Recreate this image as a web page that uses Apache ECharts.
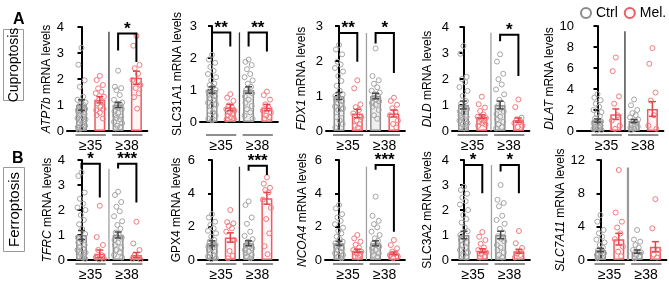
<!DOCTYPE html>
<html><head><meta charset="utf-8">
<script src="https://cdn.jsdelivr.net/npm/echarts@6/dist/echarts.min.js"></script>
<style>html,body{margin:0;padding:0;background:#fff}#c{width:669px;height:291px}</style>
</head><body><div id="c"></div>
<script>
// ---------- DATA ----------
const groupLabels = ['≥35', '≥38'];
const legendNames = ['Ctrl', 'Mel.'];
const geneNames = ['ATP7b','SLC31A1','FDX1','DLD','DLAT','TFRC','GPX4','NCOA4','SLC3A2','SLC7A11'];
// bar order: [Ctrl ≥35, Mel ≥35, Ctrl ≥38, Mel ≥38]
const meanATP7b = [1.0, 1.2, 1.0, 2.05];   const semATP7b = [0.2, 0.12, 0.1, 0.25];
const meanSLC31A1 = [1.0, 0.45, 1.0, 0.45]; const semSLC31A1 = [0.1, 0.1, 0.1, 0.1];
const meanFDX1 = [1.0, 0.5, 1.0, 0.5];      const semFDX1 = [0.1, 0.12, 0.08, 0.1];
const meanDLD = [1.0, 0.55, 1.0, 0.42];     const semDLD = [0.15, 0.07, 0.15, 0.08];
const meanDLAT = [1.0, 1.6, 0.95, 2.1];     const semDLAT = [0.15, 0.5, 0.15, 0.7];
const meanTFRC = [1.0, 0.25, 1.0, 0.2];     const semTFRC = [0.18, 0.15, 0.12, 0.1];
const meanGPX4 = [1.0, 1.35, 1.0, 3.7];     const semGPX4 = [0.15, 0.28, 0.15, 0.35];
const meanNCOA4 = [1.0, 0.55, 1.0, 0.4];    const semNCOA4 = [0.12, 0.1, 0.15, 0.08];
const meanSLC3A2 = [1.0, 0.37, 1.0, 0.35];  const semSLC3A2 = [0.15, 0.08, 0.15, 0.08];
const meanSLC7A11 = [1.2, 2.5, 1.0, 1.6];   const semSLC7A11 = [0.2, 0.7, 0.2, 0.6];

const dotsATP7b = [
  [3.2,2.55,1.95,1.7,1.32,1.2,1.1,1.05,1.0,0.95,0.9,0.85,0.8,0.75,0.7,0.65,0.6,0.55,0.5,0.45,0.4,0.35,0.3,0.25,0.2,0.15,0.1,0.05],
  [2.12,1.96,1.77,1.64,1.5,1.45,1.32,1.2,1.1,1.06,0.93,0.85,0.8,0.7,0.61,0.48],
  [2.32,1.7,1.65,1.57,1.38,1.2,1.1,1.05,1.0,0.95,0.9,0.85,0.75,0.7,0.6,0.55,0.5,0.45,0.35,0.3,0.2,0.15,0.1],
  [3.66,3.28,2.54,2.41,2.2,1.96,1.77,1.65,1.45,1.3,0.86]];
const dotsSLC31A1 = [
  [2.1,1.95,1.85,1.72,1.6,1.5,1.4,1.3,1.2,1.15,1.1,1.0,0.95,0.9,0.85,0.8,0.75,0.7,0.6,0.55,0.5,0.4,0.35,0.3,0.2,0.1,0.05],
  [0.87,0.76,0.66,0.52,0.45,0.4,0.35,0.3,0.25,0.2,0.15,0.1,0.08],
  [1.95,1.88,1.78,1.65,1.5,1.4,1.3,1.2,1.1,1.0,0.95,0.9,0.8,0.7,0.6,0.5,0.4,0.3,0.2,0.1],
  [0.95,0.84,0.7,0.55,0.45,0.35,0.3,0.2,0.15,0.1]];
const dotsFDX1 = [
  [2.46,2.33,2.19,1.98,1.9,1.8,1.7,1.57,1.43,1.29,1.15,1.05,1.0,0.95,0.9,0.85,0.8,0.75,0.7,0.65,0.6,0.5,0.4,0.3,0.2,0.1],
  [1.45,1.22,0.76,0.68,0.6,0.5,0.4,0.3,0.2,0.15,0.1],
  [2.36,1.57,1.45,1.35,1.25,1.15,1.1,1.05,1.0,0.95,0.9,0.85,0.8,0.75,0.7,0.6,0.45,0.35],
  [0.95,0.86,0.75,0.65,0.55,0.45,0.3,0.2,0.1]];
const dotsDLD = [
  [3.27,2.97,2.08,2.0,1.88,1.69,1.54,1.35,1.15,1.05,0.95,0.85,0.75,0.7,0.6,0.55,0.5,0.45,0.4,0.3,0.25,0.2,0.15,0.1],
  [1.32,1.03,0.9,0.77,0.64,0.55,0.5,0.45,0.4,0.35,0.3,0.25,0.2],
  [2.95,2.67,2.2,1.99,1.79,1.6,1.41,1.2,1.05,0.95,0.85,0.75,0.65,0.55,0.45,0.35,0.25,0.15,0.1],
  [1.21,0.92,0.51,0.45,0.35,0.3,0.2,0.15]];
const dotsDLAT = [
  [3.5,3.18,2.93,2.6,2.3,2.0,1.8,1.6,1.4,1.2,1.0,0.9,0.8,0.7,0.6,0.5,0.4,0.3,0.2,0.1,0.05],
  [7.0,5.7,3.3,2.6,1.5,1.0,0.5,0.2],
  [3.0,2.45,2.0,1.7,1.5,1.3,1.1,0.9,0.8,0.6,0.5,0.4,0.3,0.2,0.1],
  [7.9,6.4,3.66,2.9,1.5,0.5,0.2]];
const dotsTFRC = [
  [3.5,3.36,2.7,2.45,2.25,2.1,2.0,1.8,1.6,1.43,1.24,1.04,0.9,0.8,0.7,0.6,0.5,0.45,0.4,0.3,0.25,0.2,0.15,0.1,0.05],
  [2.17,0.92,0.6,0.4,0.2,0.1,0.05,0.02],
  [2.73,2.6,2.32,2.13,1.95,1.75,1.55,1.4,1.25,1.1,1.0,0.9,0.8,0.7,0.6,0.5,0.4,0.3,0.2,0.1],
  [1.53,0.66,0.4,0.2,0.1,0.05,0.02]];
const dotsGPX4 = [
  [2.75,2.55,2.3,2.1,1.9,1.75,1.6,1.4,1.2,1.1,1.0,0.9,0.8,0.7,0.6,0.5,0.4,0.3,0.2,0.1,0.05],
  [3.0,2.27,2.2,2.05,1.9,1.7,1.2,0.54,0.25,0.1],
  [3.52,3.3,2.55,2.17,1.7,1.45,1.25,1.1,1.0,0.9,0.8,0.7,0.6,0.5,0.4,0.3,0.2,0.1],
  [4.96,4.58,4.33,4.2,4.06,3.62,3.13,2.46,1.6,0.83,0.35]];
const dotsNCOA4 = [
  [3.3,3.1,2.75,2.55,2.35,2.15,1.94,1.75,1.6,1.4,1.25,1.1,1.0,0.9,0.8,0.7,0.6,0.5,0.4,0.3,0.2,0.1],
  [1.5,1.3,1.1,0.92,0.75,0.6,0.5,0.4,0.3,0.2,0.15],
  [3.8,2.65,2.35,2.15,1.96,1.7,1.5,1.3,1.15,1.0,0.9,0.8,0.7,0.6,0.5,0.4,0.3,0.2],
  [1.2,0.9,0.7,0.5,0.4,0.3,0.2,0.1]];
const dotsSLC3A2 = [
  [2.93,2.8,2.65,2.5,2.35,2.22,2.0,1.8,1.64,1.5,1.3,1.15,1.0,0.9,0.8,0.7,0.6,0.5,0.4,0.3,0.2,0.1],
  [1.12,0.93,0.8,0.65,0.5,0.4,0.3,0.22,0.15,0.1],
  [3.0,2.41,2.28,2.15,1.77,1.6,1.45,1.25,1.1,0.95,0.85,0.75,0.6,0.5,0.4,0.3,0.2,0.1],
  [1.16,0.67,0.48,0.28,0.2,0.1]];
const dotsSLC7A11 = [
  [5.4,4.6,3.6,3.2,2.8,2.45,2.1,1.8,1.5,1.2,1.0,0.8,0.6,0.4,0.2],
  [10.8,5.7,4.6,3.9,3.2,2.5,1.6,1.0,0.46],
  [3.6,2.45,2.2,1.8,1.5,1.2,0.9,0.6,0.4,0.2],
  [7.3,3.8,1.2,0.65,0.3]];

// significance brackets: [bar from, bar to, bracket top, left leg end, right leg end, label]
const sigATP7b = [[2,3,3.75,3.1,2.65,'*']];
const sigSLC31A1 = [[0,1,2.8,2.46,2.36,'**'],[2,3,2.8,2.36,2.2,'**']];
const sigFDX1 = [[0,1,2.8,2.52,1.98,'**'],[2,3,2.8,2.5,1.66,'*']];
const sigDLD = [[2,3,3.7,3.45,2.12,'*']];
const sigDLAT = [];
const sigTFRC = [[0,1,3.85,3.66,2.5,'*'],[2,3,3.85,3.66,2.3,'***']];
const sigGPX4 = [[2,3,5.65,5.35,5.1,'***']];
const sigNCOA4 = [[2,3,5.7,5.42,1.7,'***']];
const sigSLC3A2 = [[0,1,3.8,3.54,2.67,'*'],[2,3,3.8,3.54,2.67,'*']];
const sigSLC7A11 = [];

// y axis tick ranges
const yMaxes = [4, 3, 3, 4, 10, 4, 6, 6, 4, 12];
const ySteps = [1, 1, 1, 1, 2, 1, 2, 2, 1, 4];
const italicGene = [true, false, true, true, true, true, false, true, false, true];

// ---------- LAYOUT ----------
const FONT = '"Liberation Sans", Arial, Helvetica, sans-serif';
const U = 18.3; // px per bar slot
const layout = [
  {left:67,  top:27,  h:104, off:14.5, gap:11, sepTop:3.82, ul:4,  lab:15, sepCol:'#333', sepW:1.3},
  {left:200, top:26,  h:96,  off:12,   gap:16, sepTop:2.8,  ul:13, lab:24, sepCol:'#333', sepW:1.3},
  {left:326, top:26,  h:105, off:13,   gap:18, sepTop:2.8,  ul:4,  lab:15, sepCol:'#a0a0a0', sepW:1.3},
  {left:452, top:27,  h:104, off:11.5, gap:18, sepTop:3.78, ul:4,  lab:15, sepCol:'#a0a0a0', sepW:1.3},
  {left:577, top:26,  h:105, off:20.5, gap:16, sepTop:9.5,  ul:4,  lab:15, sepCol:'#333', sepW:1.3},
  {left:68,  top:160, h:100, off:13.5, gap:12, sepTop:3.65, ul:4,  lab:15, sepCol:'#a0a0a0', sepW:1.3},
  {left:198, top:160, h:100, off:14,   gap:15, sepTop:5.6,  ul:4,  lab:15, sepCol:'#333', sepW:1.3},
  {left:325, top:160, h:100, off:14,   gap:16, sepTop:5.6,  ul:4,  lab:15, sepCol:'#a0a0a0', sepW:1.3},
  {left:452, top:160, h:100, off:12,   gap:18, sepTop:3.8,  ul:4,  lab:15, sepCol:'#a0a0a0', sepW:1.3},
  {left:588, top:160, h:100, off:12.5, gap:17, sepTop:11.1, ul:4,  lab:15, sepCol:'#9a9a9a', sepW:2.2}
];
const means = [meanATP7b, meanSLC31A1, meanFDX1, meanDLD, meanDLAT, meanTFRC, meanGPX4, meanNCOA4, meanSLC3A2, meanSLC7A11];
const sems = [semATP7b, semSLC31A1, semFDX1, semDLD, semDLAT, semTFRC, semGPX4, semNCOA4, semSLC3A2, semSLC7A11];
const dots = [dotsATP7b, dotsSLC31A1, dotsFDX1, dotsDLD, dotsDLAT, dotsTFRC, dotsGPX4, dotsNCOA4, dotsSLC3A2, dotsSLC7A11];
const sigs = [sigATP7b, sigSLC31A1, sigFDX1, sigDLD, sigDLAT, sigTFRC, sigGPX4, sigNCOA4, sigSLC3A2, sigSLC7A11];

const CTRL = {dot:'#a5a5a5', bar:'#8e8e8e', fill:'rgba(210,210,210,0.35)', err:'#4a4a4a'};
const MEL  = {dot:'#f27a7f', bar:'#ee5a61', fill:'rgba(255,230,231,0.35)', err:'#e6434b'};
const JIT = [0,-0.17,0.17,-0.09,0.09,-0.22,0.22,-0.04,0.13,-0.13,0.04,0.2,-0.2];

const grids = [], xAxes = [], yAxes = [], series = [];
layout.forEach((p, i) => {
  const xMin = -p.off / U, xMax = 3.6;
  grids.push({left: p.left, top: p.top, width: (xMax - xMin) * U, height: p.h});
  xAxes.push({gridIndex: i, type: 'value', min: xMin, max: xMax,
    axisLine: {show: true, onZero: false, lineStyle: {color: '#000', width: 2}},
    axisTick: {show: false}, axisLabel: {show: false}, splitLine: {show: false}});
  const g = geneNames[i];
  yAxes.push({gridIndex: i, type: 'value', min: 0, max: yMaxes[i], interval: ySteps[i],
    axisLine: {show: true, lineStyle: {color: '#000', width: 2}},
    axisTick: {show: true, length: 4, lineStyle: {color: '#000', width: 2}},
    axisLabel: {fontSize: 13, color: '#000', margin: 3, fontFamily: FONT},
    splitLine: {show: false},
    name: (italicGene[i] ? '{i|' + g + '}' : g) + ' mRNA levels',
    nameLocation: 'middle', nameGap: p.gap,
    nameTextStyle: {fontSize: 12, color: '#000', fontFamily: FONT,
      rich: {i: {fontStyle: 'italic', fontSize: 12, color: '#000', fontFamily: FONT}}}});
  const ax = {xAxisIndex: i, yAxisIndex: i};

  // separator between the two temperature groups
  series.push(Object.assign({type: 'custom', z: 1, clip: false, silent: true,
    data: [[1.5, p.sepTop]],
    renderItem: (params, api) => {
      const a = api.coord([api.value(0), 0]), b = api.coord([api.value(0), api.value(1)]);
      return {type: 'line', shape: {x1: a[0], y1: a[1], x2: b[0], y2: b[1]},
        style: {stroke: p.sepCol, lineWidth: p.sepW}};
    }}, ax));
  // group underlines + labels
  series.push(Object.assign({type: 'custom', z: 1, clip: false, silent: true,
    data: [[0.5, 0], [2.5, 0]],
    renderItem: (params, api) => {
      const c = api.coord([api.value(0), 0]);
      const l = api.coord([api.value(0) - 0.5, 0])[0] - 6;
      const r = api.coord([api.value(0) + 0.5, 0])[0] + 6;
      return {type: 'group', children: [
        {type: 'line', shape: {x1: l, y1: c[1] + p.ul, x2: r, y2: c[1] + p.ul},
          style: {stroke: '#444', lineWidth: 1.2}},
        {type: 'text', style: {text: groupLabels[params.dataIndex], x: c[0], y: c[1] + p.lab,
          align: 'center', verticalAlign: 'middle', fontSize: 14, fontFamily: FONT, fill: '#000'}}
      ]};
    }}, ax));

  // bars
  series.push(Object.assign({type: 'bar', barWidth: 11, z: 2, silent: true,
    data: means[i].map((m, k) => ({value: [k, m], itemStyle: {
      color: k % 2 ? MEL.fill : CTRL.fill, borderColor: k % 2 ? MEL.bar : CTRL.bar, borderWidth: 1.5}}))}, ax));

  // individual dots
  legendNames.forEach((nm, gI) => {
    const pts = [];
    [gI, gI + 2].forEach(k => dots[i][k].forEach((v, j) => pts.push([k + JIT[j % JIT.length], v])));
    series.push(Object.assign({type: 'scatter', name: nm, symbol: 'circle', symbolSize: 5, z: 3, silent: true,
      itemStyle: {color: 'rgba(255,255,255,0)', borderColor: gI ? MEL.dot : CTRL.dot, borderWidth: 1, opacity: 1},
      data: pts}, ax));
  });

  // error bars (mean ± SEM)
  series.push(Object.assign({type: 'custom', z: 4, clip: false, silent: true,
    data: means[i].map((m, k) => [k, m, sems[i][k]]),
    renderItem: (params, api) => {
      const x = api.value(0), m = api.value(1), s = api.value(2);
      const col = params.dataIndex % 2 ? MEL.err : CTRL.err;
      const t = api.coord([x, m + s]), b = api.coord([x, Math.max(0, m - s)]);
      const w = 3.5;
      return {type: 'group', children: [
        {type: 'line', shape: {x1: t[0], y1: t[1], x2: b[0], y2: b[1]}, style: {stroke: col, lineWidth: 1.5}},
        {type: 'line', shape: {x1: t[0] - w, y1: t[1], x2: t[0] + w, y2: t[1]}, style: {stroke: col, lineWidth: 1.5}},
        {type: 'line', shape: {x1: b[0] - w, y1: b[1], x2: b[0] + w, y2: b[1]}, style: {stroke: col, lineWidth: 1.5}}
      ]};
    }}, ax));

  // significance brackets
  if (sigs[i].length) {
    series.push(Object.assign({type: 'custom', z: 5, clip: false, silent: true,
      data: sigs[i].map(s => [s[0], s[2], s[1], s[3], s[4]]),
      renderItem: (params, api) => {
        const s = sigs[i][params.dataIndex];
        const a = api.coord([s[0], s[3]]), b = api.coord([s[0], s[2]]);
        const c = api.coord([s[1], s[2]]), e = api.coord([s[1], s[4]]);
        return {type: 'group', children: [
          {type: 'polyline', shape: {points: [a, b, c, e]}, style: {stroke: '#000', lineWidth: 2, fill: null}},
          {type: 'text', style: {text: s[5], x: (b[0] + c[0]) / 2, y: b[1] + 4, align: 'center',
            verticalAlign: 'bottom', fontSize: 17, fontWeight: 'bold', fontFamily: FONT, fill: '#000'}}
        ]};
      }}, ax));
  }
});

const chart = echarts.init(document.getElementById('c'), null, {renderer: 'canvas'});
chart.setOption({
  animation: false,
  backgroundColor: '#fff',
  grid: grids, xAxis: xAxes, yAxis: yAxes, series: series,
  legend: {top: 6, left: 580, orient: 'horizontal', padding: 0, itemWidth: 10, itemHeight: 10, itemGap: 6,
    selectedMode: false,
    textStyle: {fontSize: 14, color: '#000', fontFamily: FONT},
    data: [
      {name: legendNames[0], icon: 'circle', itemStyle: {color: 'rgba(255,255,255,0)', borderColor: '#8a8a8a', borderWidth: 2}},
      {name: legendNames[1], icon: 'circle', itemStyle: {color: 'rgba(255,255,255,0)', borderColor: '#ee5a61', borderWidth: 2}}
    ]},
  graphic: [
    {type: 'text', left: 13, top: 12, style: {text: 'A', font: 'bold 16px ' + FONT, fill: '#000'}},
    {type: 'text', left: 12, top: 151, style: {text: 'B', font: 'bold 16px ' + FONT, fill: '#000'}},
    {type: 'rect', shape: {x: 3.5, y: 29.5, width: 20, height: 71}, style: {fill: '#fff', stroke: '#9a9a9a', lineWidth: 1}},
    {type: 'text', x: 14, y: 65, rotation: Math.PI / 2,
      style: {text: 'Cuproptosis', font: '14px ' + FONT, align: 'center', verticalAlign: 'middle', fill: '#000'}},
    {type: 'rect', shape: {x: 3.5, y: 167.5, width: 21, height: 84}, style: {fill: '#fff', stroke: '#9a9a9a', lineWidth: 1}},
    {type: 'text', x: 14.5, y: 209.5, rotation: Math.PI / 2,
      style: {text: 'Ferroptosis', font: '15px ' + FONT, align: 'center', verticalAlign: 'middle', fill: '#000'}}
  ]
});
</script>
</body></html>
